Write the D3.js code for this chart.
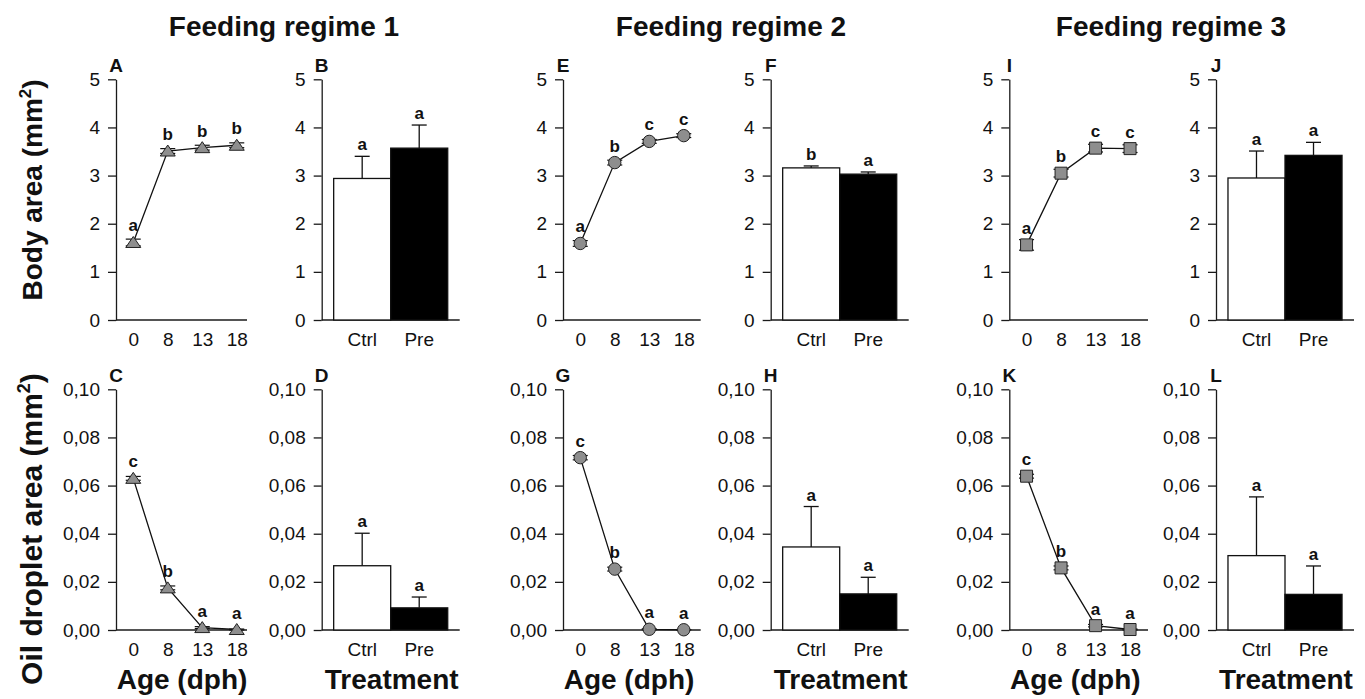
<!DOCTYPE html>
<html><head><meta charset="utf-8">
<script src="https://cdn.jsdelivr.net/npm/d3@7"></script>
<style>
body{margin:0;background:#fff}
text{font-family:"Liberation Sans",Arial,Helvetica,sans-serif;fill:#111}
</style>
</head><body>
<svg id="chart" width="1365" height="699"></svg>
<script>
// ---------- data ----------
const ages = ["0","8","13","18"];
const treatments = ["Ctrl","Pre"];
const regimes = ["Feeding regime 1","Feeding regime 2","Feeding regime 3"];
const bodyTicks = [0,1,2,3,4,5];
const oilTicks = [0,0.02,0.04,0.06,0.08,0.10];

// Feeding regime 1
const aMean = [1.61,3.51,3.58,3.63], aErr = [0.07,0.05,0.05,0.05], aSig = ["a","b","b","b"];
const bMean = [2.94,3.57], bErr = [0.46,0.48], bSig = ["a","a"];
const cMean = [0.063,0.0175,0.001,0.0002], cErr = [0.0008,0.0008,0.0004,0.0002], cSig = ["c","b","a","a"];
const dMean = [0.0267,0.0092], dErr = [0.0135,0.0045], dSig = ["a","a"];
// Feeding regime 2
const eMean = [1.59,3.27,3.71,3.83], eErr = [0.06,0.05,0.04,0.04], eSig = ["a","b","c","c"];
const fMean = [3.16,3.03], fErr = [0.04,0.045], fSig = ["b","a"];
const gMean = [0.0716,0.0253,0.0003,0.0001], gErr = [0.0009,0.0008,0.0002,0.0001], gSig = ["c","b","a","a"];
const hMean = [0.0345,0.015], hErr = [0.0168,0.0069], hSig = ["a","a"];
// Feeding regime 3
const iMean = [1.56,3.05,3.57,3.56], iErr = [0.11,0.08,0.08,0.08], iSig = ["a","b","c","c"];
const jMean = [2.95,3.42], jErr = [0.56,0.27], jSig = ["a","a"];
const kMean = [0.0639,0.0258,0.0018,0.0002], kErr = [0.0008,0.0008,0.0005,0.0002], kSig = ["c","b","a","a"];
const lMean = [0.0309,0.0148], lErr = [0.0244,0.0118], lSig = ["a","a"];

// ---------- layout ----------
const colX = [116, 321.7, 563, 770.7, 1009.3, 1216];
const rows = [{top:79.3, bottom:320}, {top:389.3, bottom:630}];
const lineAxisLen = [131, 137.7, 138.7];
const panelW = 138;
const titleX = [284, 731, 1171];
const markerFill = "#8e8e8e";

const panels = [
  {id:"A", type:"line", row:0, reg:0, mean:aMean, err:aErr, sig:aSig, marker:"triangle"},
  {id:"B", type:"bar",  row:0, reg:0, mean:bMean, err:bErr, sig:bSig},
  {id:"C", type:"line", row:1, reg:0, mean:cMean, err:cErr, sig:cSig, marker:"triangle"},
  {id:"D", type:"bar",  row:1, reg:0, mean:dMean, err:dErr, sig:dSig},
  {id:"E", type:"line", row:0, reg:1, mean:eMean, err:eErr, sig:eSig, marker:"circle"},
  {id:"F", type:"bar",  row:0, reg:1, mean:fMean, err:fErr, sig:fSig},
  {id:"G", type:"line", row:1, reg:1, mean:gMean, err:gErr, sig:gSig, marker:"circle"},
  {id:"H", type:"bar",  row:1, reg:1, mean:hMean, err:hErr, sig:hSig},
  {id:"I", type:"line", row:0, reg:2, mean:iMean, err:iErr, sig:iSig, marker:"square"},
  {id:"J", type:"bar",  row:0, reg:2, mean:jMean, err:jErr, sig:jSig},
  {id:"K", type:"line", row:1, reg:2, mean:kMean, err:kErr, sig:kSig, marker:"square"},
  {id:"L", type:"bar",  row:1, reg:2, mean:lMean, err:lErr, sig:lSig}
];

const svg = d3.select("#chart");
const oilFmt = v => d3.format(".2f")(v).replace(".", ",");
const TICK_FS = 19, SIG_FS = 17, LETTER_FS = 19, TITLE_FS = 28, AXT_FS = 28;

function markerPath(kind){
  if(kind==="triangle") return "M-7.5,5L7.5,5L0,-6Z";
  if(kind==="square") return "M-6,-6H6V6H-6Z";
  return d3.symbol(d3.symbolCircle, Math.PI*6.2*6.2)();
}

panels.forEach(p => {
  const r = rows[p.row];
  const x0 = colX[p.reg*2 + (p.type==="bar"?1:0)];
  const g = svg.append("g").attr("transform", `translate(${x0},0)`);
  const isBody = p.row===0;
  const y = d3.scaleLinear().domain(isBody?[0,5]:[0,0.1]).range([r.bottom, r.top]);

  // y axis
  const ya = d3.axisLeft(y).tickValues(isBody?bodyTicks:oilTicks)
    .tickSize(8).tickPadding(8).tickSizeOuter(0)
    .tickFormat(isBody ? d3.format("d") : oilFmt);
  const yg = g.append("g").call(ya);
  yg.selectAll("path,line").attr("stroke","#1a1a1a").attr("stroke-width",1.3);
  yg.selectAll("text").attr("font-size",TICK_FS).attr("font-family",'"Liberation Sans",Arial,sans-serif').attr("fill","#111");

  const axisLen = p.type==="bar" ? panelW : lineAxisLen[p.reg];
  g.append("line").attr("x1",0).attr("x2",axisLen).attr("y1",r.bottom).attr("y2",r.bottom)
    .attr("stroke","#1a1a1a").attr("stroke-width",1.3);

  // panel letter
  g.append("text").attr("x",0).attr("y",r.top-7).attr("text-anchor","middle")
    .attr("font-size",LETTER_FS).attr("font-weight","bold").text(p.id);

  if(p.type==="line"){
    const x = d3.scalePoint().domain(ages).range([0,panelW]).padding(0.5);
    const xa = d3.axisBottom(x).tickSize(0).tickPadding(13);
    const xg = g.append("g").attr("transform",`translate(0,${r.bottom})`).call(xa);
    xg.select(".domain").remove();
    xg.selectAll("text").attr("font-size",TICK_FS).attr("font-family",'"Liberation Sans",Arial,sans-serif').attr("fill","#111");

    const pts = ages.map((a,i)=>({a, m:p.mean[i], e:p.err[i], s:p.sig[i]}));
    g.append("path").datum(pts)
      .attr("d", d3.line().x(d=>x(d.a)).y(d=>y(d.m)))
      .attr("fill","none").attr("stroke","#111").attr("stroke-width",1.3);
    const eg = g.selectAll(".eb").data(pts).join("g");
    eg.append("line").attr("x1",d=>x(d.a)).attr("x2",d=>x(d.a))
      .attr("y1",d=>y(d.m-d.e)).attr("y2",d=>y(d.m+d.e)).attr("stroke","#111").attr("stroke-width",1.2);
    [-1,1].forEach(sgn=>{
      eg.append("line").attr("x1",d=>x(d.a)-7.5).attr("x2",d=>x(d.a)+7.5)
        .attr("y1",d=>y(d.m+sgn*d.e)).attr("y2",d=>y(d.m+sgn*d.e))
        .attr("stroke","#111").attr("stroke-width",1.2);
    });
    g.selectAll(".mk").data(pts).join("path")
      .attr("d", markerPath(p.marker))
      .attr("transform", d=>`translate(${x(d.a)},${y(d.m)})`)
      .attr("fill",markerFill).attr("stroke","#222").attr("stroke-width",1);
    g.selectAll(".sg").data(pts).join("text")
      .attr("x",d=>x(d.a)).attr("y",d=>y(d.m)-11).attr("text-anchor","middle")
      .attr("font-size",SIG_FS).attr("font-weight","bold").text(d=>d.s);

    if(p.row===1){
      g.append("text").attr("x",panelW/2-3).attr("y",689).attr("text-anchor","middle")
        .attr("font-size",AXT_FS).attr("font-weight","bold").text("Age (dph)");
    }
  } else {
    const x = d3.scaleBand().domain(treatments).range([0,panelW]).paddingInner(0).paddingOuter(0.21);
    const xa = d3.axisBottom(x).tickSize(0).tickPadding(13);
    const xg = g.append("g").attr("transform",`translate(0,${r.bottom})`).call(xa);
    xg.select(".domain").remove();
    xg.selectAll("text").attr("font-size",TICK_FS).attr("font-family",'"Liberation Sans",Arial,sans-serif').attr("fill","#111");

    const bars = treatments.map((t,i)=>({t, m:p.mean[i], e:p.err[i], s:p.sig[i]}));
    const cx = d => x(d.t)+x.bandwidth()/2;
    g.selectAll(".eb").data(bars).join("line")
      .attr("x1",cx).attr("x2",cx).attr("y1",d=>y(d.m)).attr("y2",d=>y(d.m+d.e))
      .attr("stroke","#111").attr("stroke-width",1.3);
    g.selectAll(".ec").data(bars).join("line")
      .attr("x1",d=>cx(d)-7.5).attr("x2",d=>cx(d)+7.5).attr("y1",d=>y(d.m+d.e)).attr("y2",d=>y(d.m+d.e))
      .attr("stroke","#111").attr("stroke-width",1.3);
    g.selectAll(".bar").data(bars).join("rect")
      .attr("x",d=>x(d.t)).attr("width",x.bandwidth())
      .attr("y",d=>y(d.m)).attr("height",d=>r.bottom-y(d.m))
      .attr("fill",(d,i)=>i===0?"#fff":"#000").attr("stroke","#111").attr("stroke-width",1.3);
    g.selectAll(".sg").data(bars).join("text")
      .attr("x",cx).attr("y",d=>y(d.m+d.e)-6).attr("text-anchor","middle")
      .attr("font-size",SIG_FS).attr("font-weight","bold").text(d=>d.s);

    if(p.row===1){
      g.append("text").attr("x",panelW/2+1).attr("y",689).attr("text-anchor","middle")
        .attr("font-size",AXT_FS).attr("font-weight","bold").text("Treatment");
    }
  }
});

// regime titles
regimes.forEach((t,i)=>{
  svg.append("text").attr("x",titleX[i]).attr("y",36).attr("text-anchor","middle")
    .attr("font-size",TITLE_FS).attr("font-weight","bold").text(t);
});

// y titles
function yTitle(label, cy, fs){
  const t = svg.append("text").attr("transform",`translate(42,${cy}) rotate(-90)`)
    .attr("text-anchor","middle").attr("font-size",fs).attr("font-weight","bold");
  t.append("tspan").text(label + " (mm");
  t.append("tspan").attr("font-size",fs*0.6).attr("dy",-fs*0.4).text("2");
  t.append("tspan").attr("dy",fs*0.4).text(")");
}
yTitle("Body area", 190, 28);
yTitle("Oil droplet area", 529, 30);
</script>
</body></html>
